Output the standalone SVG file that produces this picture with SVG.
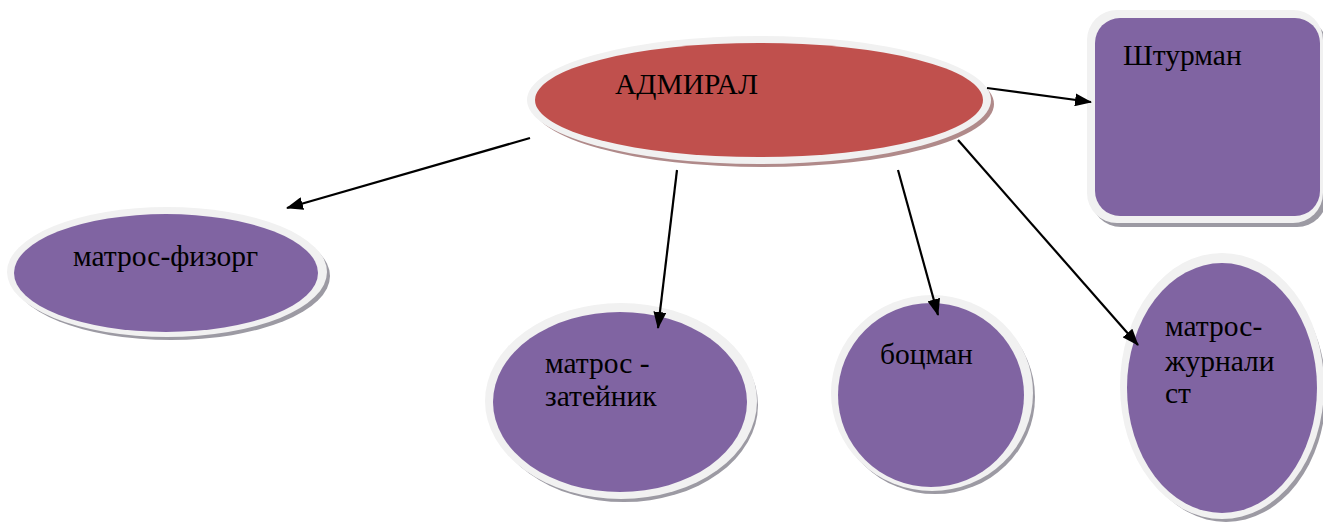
<svg xmlns="http://www.w3.org/2000/svg" width="1323" height="524" viewBox="0 0 1323 524">
<defs>
<style>
.sh{fill:#9c9aa3}
.shr{fill:#b08a8a}
.rim{fill:#f1f1f1}
.red{fill:#c0504d}
.pur{fill:#8064a2}
.t{font-family:'Liberation Serif','DejaVu Serif',serif;font-size:29.5px;fill:#000}
.c{stroke:#000;stroke-width:2.2;fill:none;marker-end:url(#ah)}
</style>
<marker id="ah" viewBox="0 0 17 13" refX="16" refY="6.5" markerWidth="17" markerHeight="13" markerUnits="userSpaceOnUse" orient="auto">
<path d="M0,0 L17,6.5 L0,13 z" fill="#000"/>
</marker>
</defs>
<rect width="1323" height="524" fill="#fff"/>
<g id="admiral">
<ellipse class="shr" cx="763" cy="104" rx="231" ry="63"/>
<ellipse class="rim" cx="759" cy="100" rx="232" ry="64"/>
<ellipse class="red" cx="759" cy="100" rx="224" ry="57"/>
<text class="t" x="615" y="94">АДМИРАЛ</text>
</g>
<g id="shturman">
<rect class="sh" x="1091" y="17" width="236" height="210" rx="30"/>
<rect class="rim" x="1087" y="10" width="236" height="213" rx="30"/>
<rect class="pur" x="1095" y="18" width="225" height="198" rx="25"/>
<text class="t" x="1123" y="65">Штурман</text>
</g>
<g id="fizorg">
<ellipse class="sh" cx="171" cy="276" rx="159" ry="64"/>
<ellipse class="rim" cx="167" cy="272" rx="160" ry="65"/>
<ellipse class="pur" cx="166" cy="273" rx="152" ry="59"/>
<text class="t" x="73" y="266">матрос-физорг</text>
</g>
<g id="zateynik">
<ellipse class="sh" cx="624" cy="405" rx="134" ry="97"/>
<ellipse class="rim" cx="621" cy="401" rx="136" ry="98"/>
<ellipse class="pur" cx="620" cy="402" rx="127" ry="90"/>
<text class="t" x="545" y="373">матрос -</text>
<text class="t" x="545" y="406">затейник</text>
</g>
<g id="botsman">
<ellipse class="sh" cx="935" cy="397" rx="100" ry="97"/>
<ellipse class="rim" cx="932" cy="393" rx="101" ry="98"/>
<ellipse class="pur" cx="931" cy="395" rx="93" ry="92"/>
<text class="t" x="880" y="364">боцман</text>
</g>
<g id="zhurnalist">
<ellipse class="sh" cx="1226" cy="392" rx="100" ry="130"/>
<ellipse class="rim" cx="1222" cy="386" rx="102" ry="133"/>
<ellipse class="pur" cx="1222" cy="388" rx="95" ry="125"/>
<text class="t" x="1165" y="336">матрос-</text>
<text class="t" x="1165" y="371">журнали</text>
<text class="t" x="1165" y="403">ст</text>
</g>
<g id="connectors">
<line class="c" x1="530" y1="138" x2="287" y2="208"/>
<line class="c" x1="677" y1="170" x2="658" y2="328"/>
<line class="c" x1="898" y1="170" x2="938" y2="315"/>
<line class="c" x1="958" y1="140" x2="1138" y2="345"/>
<line class="c" x1="987" y1="88" x2="1091" y2="102"/>
</g>
</svg>
